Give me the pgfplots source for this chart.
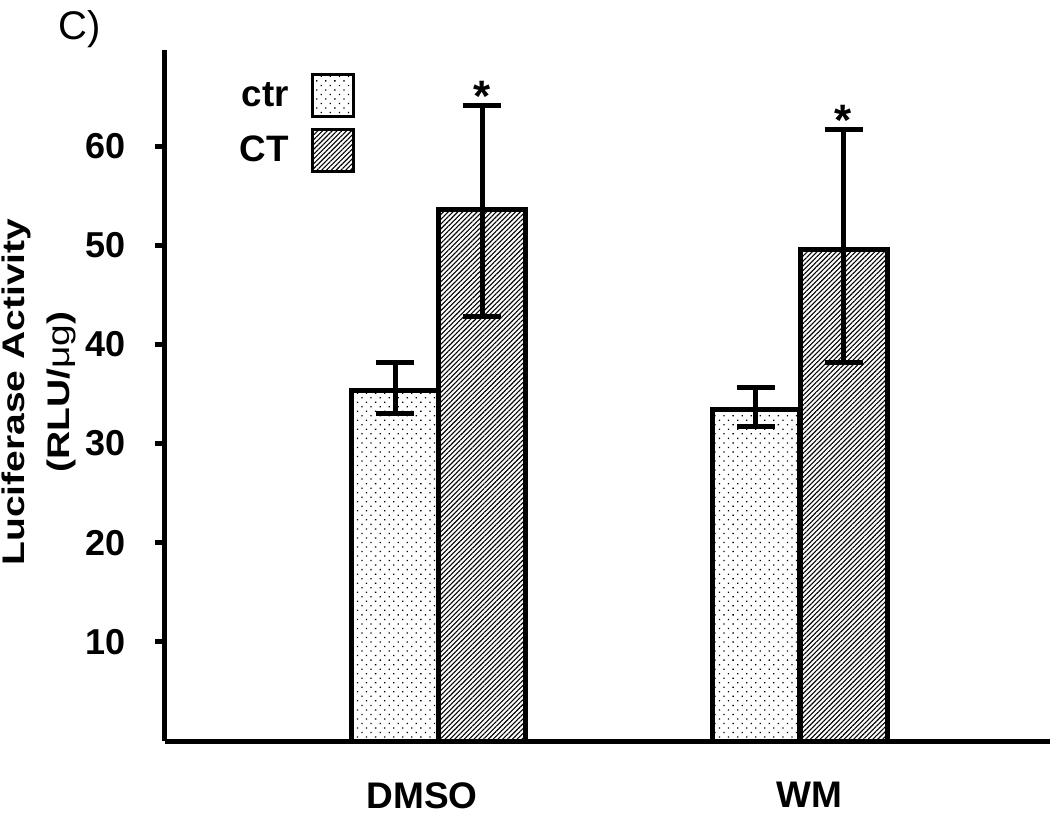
\documentclass[border=0pt]{standalone}
\usepackage{fontspec}
\setmainfont{Liberation Sans}
\usepackage{graphicx}
\usepackage{pgfplots}
\pgfplotsset{compat=1.18}
\usetikzlibrary{patterns.meta}

\begin{document}
\begin{tikzpicture}
\begin{axis}[
  scale only axis,
  width=442.5pt, height=345.5pt,
  xmin=165, xmax=1050, ymin=0, ymax=69.7,
  clip=false,
  axis x line*=bottom, axis y line*=left,
  axis line style={line width=2.5pt, black},
  ytick={10,20,30,40,50,60},
  xtick={422,809}, xticklabels={DMSO,WM},
  x tick style={draw=none},
  y tick style={line width=2.5pt, black},
  tick align=outside,
  major tick length=5pt,
  /pgf/number format/assume math mode=true,
  yticklabel style={font=\fontsize{18}{20}\selectfont\bfseries, inner sep=0pt, anchor=east, xshift=-14.5pt},
  xticklabel style={font=\fontsize{18.5}{20}\selectfont\bfseries, inner sep=0pt, anchor=north, yshift=-15.5pt},
  ylabel={\scalebox{1}[0.8]{\parbox{12cm}{\centering\fontsize{19.5}{28}\selectfont\bfseries Luciferase Activity\\ (RLU/{\mdseries μg})}}},
  ylabel style={at={(axis description cs:-0.1425,0.505)}, anchor=center, inner sep=0pt},
  legend style={draw=none, fill=none, at={(axis description cs:0.2147,0.9667)}, anchor=north east,
    font=\fontsize{18.4}{20}\selectfont\bfseries, inner sep=0pt, outer sep=0pt,
    column sep=11pt, row sep=5pt, nodes={inner sep=0pt}},
  legend cell align=right,
  legend plot pos=right,
  legend image code/.code={\draw[#1, line width=1.5pt] (0pt,-10.5pt) rectangle (20.5pt,10.5pt);},
]
\addplot[ybar, bar width=87, bar shift=0pt, draw=black, line width=2.5pt,
  pattern={Dots[distance=3.2pt, angle=45, radius=0.45pt]}, pattern color=black,
  error bars/y dir=both, error bars/y explicit,
  error bars/error bar style={line width=2.5pt, black},
  error bars/error mark options={rotate=90, mark size=9.5pt, line width=2.5pt, black}]
  coordinates {(395,35.4) += (0,2.8) -= (0,2.4)
               (755.5,33.4) += (0,2.3) -= (0,1.7)};
\addlegendentry{ctr}
\addplot[ybar, bar width=87, bar shift=0pt, draw=black, line width=2.5pt,
  pattern={Lines[angle=45, distance=1.7pt, line width=0.55pt]}, pattern color=black,
  error bars/y dir=both, error bars/y explicit,
  error bars/error bar style={line width=2.5pt, black},
  error bars/error mark options={rotate=90, mark size=9.5pt, line width=2.5pt, black}]
  coordinates {(482,53.6) += (0,10.5) -= (0,10.8)
               (843.5,49.6) += (0,12.1) -= (0,11.4)};
\addlegendentry{CT}
\node[anchor=base, inner sep=0pt, font=\fontsize{22}{22}\selectfont\bfseries] at (axis cs:482,64.1) [yshift=-3pt] {*};
\node[anchor=base, inner sep=0pt, font=\fontsize{22}{22}\selectfont\bfseries] at (axis cs:843.5,61.7) [yshift=-3pt] {*};
\node[anchor=north west, inner sep=0pt, font=\fontsize{20}{24}\selectfont] at (axis description cs:-0.1209,1.058) {C)};
\end{axis}
\pgfresetboundingbox
\path[use as bounding box] ([shift={(-82.5pt,-36.5pt)}]current axis.south west) rectangle ([shift={(0pt,25pt)}]current axis.north east);
\end{tikzpicture}
\end{document}
